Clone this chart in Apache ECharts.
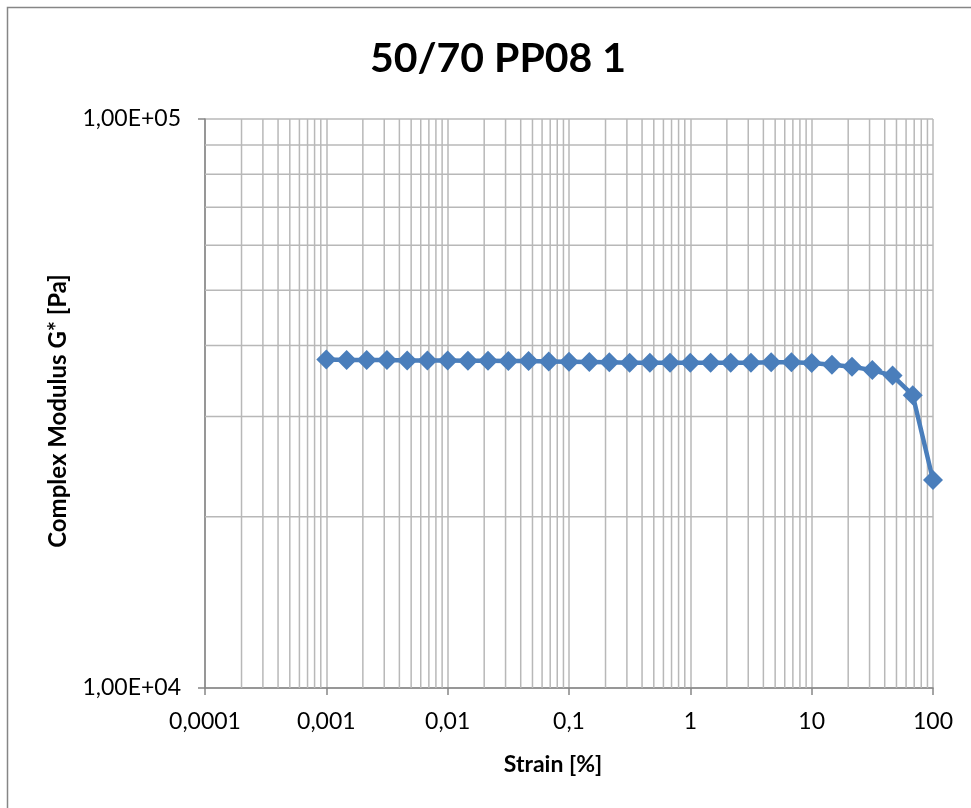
<!DOCTYPE html>
<html>
<head>
<meta charset="utf-8">
<script src="https://cdn.jsdelivr.net/npm/echarts@6/dist/echarts.min.js"></script>
<style>html,body{margin:0;padding:0;background:#fff}#c{width:971px;height:808px}</style>
</head>
<body>
<div id="c"></div>
<script>
var chartTitle = '50/70 PP08 1';
var xName = 'Strain [%]';
var yName = 'Complex Modulus G* [Pa]';
var strain = [0.001, 0.00147, 0.00215, 0.00316, 0.00464, 0.00681,
  0.01, 0.0147, 0.0215, 0.0316, 0.0464, 0.0681,
  0.1, 0.147, 0.215, 0.316, 0.464, 0.681,
  1, 1.47, 2.15, 3.16, 4.64, 6.81,
  10, 14.7, 21.5, 31.6, 46.4, 68.1, 100];
var modulus = [37800, 37700, 37700, 37700, 37650, 37650,
  37650, 37600, 37600, 37550, 37550, 37500,
  37450, 37400, 37350, 37300, 37300, 37300,
  37300, 37300, 37300, 37300, 37350, 37350,
  37250, 37000, 36700, 36200, 35400, 32700, 23200];
var xTickLabels = {0.0001:'0,0001', 0.001:'0,001', 0.01:'0,01', 0.1:'0,1', 1:'1', 10:'10', 100:'100'};
var yTickLabels = {10000:'1,00E+04', 100000:'1,00E+05'};
var xDecades = [0.0001, 0.001, 0.01, 0.1, 1, 10];
var minorSteps = [2, 3, 4, 5, 6, 7, 8, 9];
var yMinor = [20000, 30000, 40000, 50000, 60000, 70000, 80000, 90000];
var xMin = 0.0001, xMax = 100, yMin = 10000, yMax = 100000;

var xMinor = [];
xDecades.forEach(function(d){ minorSteps.forEach(function(k){ xMinor.push(+(d*k).toPrecision(3)); }); });

var font = 'Lato, "Open Sans", sans-serif';
var gridColor = '#b8b8b8';
var series = [];
xMinor.forEach(function(v){
  series.push({type:'line', silent:true, symbol:'none', z:1, data:[[v, yMin],[v, yMax]], lineStyle:{color:gridColor, width:1.5}});
});
yMinor.forEach(function(v){
  series.push({type:'line', silent:true, symbol:'none', z:1, data:[[xMin, v],[xMax, v]], lineStyle:{color:gridColor, width:1.5}});
});
series.push({
  type:'line',
  data:strain.map(function(s,i){return [s, modulus[i]];}),
  symbol:'diamond', symbolSize:20,
  lineStyle:{color:'#4a7ebb', width:4.5},
  itemStyle:{color:'#4a7ebb'},
  z:5
});

var chart = echarts.init(document.getElementById('c'), null, {renderer:'canvas'});
chart.setOption({
  animation:false,
  backgroundColor:'#fff',
  title:{text:chartTitle, left:493, textAlign:'center', top:33, textStyle:{fontFamily:font, fontWeight:'bold', fontSize:41, color:'#000'}},
  grid:{left:205, right:38, top:119, bottom:120},
  xAxis:{type:'log', logBase:10, min:xMin, max:xMax,
    axisLine:{lineStyle:{color:'#868686', width:1.5}},
    axisTick:{show:true, length:7, lineStyle:{color:'#868686', width:1.5}},
    axisLabel:{fontFamily:font, fontSize:23, color:'#000', margin:22, formatter:function(v){return xTickLabels[v]!==undefined?xTickLabels[v]:'';}},
    splitLine:{show:true, lineStyle:{color:gridColor, width:1.5}}
  },
  yAxis:{type:'log', logBase:10, min:yMin, max:yMax,
    axisLine:{show:true, lineStyle:{color:'#868686', width:1.5}},
    axisTick:{show:true, length:7, lineStyle:{color:'#868686', width:1.5}},
    axisLabel:{fontFamily:font, fontSize:23, color:'#000', margin:24, formatter:function(v){return yTickLabels[v]!==undefined?yTickLabels[v]:'';}},
    splitLine:{show:true, lineStyle:{color:gridColor, width:1.5}}
  },
  graphic:[
    {type:'rect', silent:true, shape:{x:7.5, y:7.5, width:1000, height:900}, style:{fill:null, stroke:'#868686', lineWidth:1.5}, z:-10},
    {type:'text', x:553, y:765, style:{text:xName, font:'bold 23px '+font, fill:'#000', align:'center', verticalAlign:'middle'}},
    {type:'text', x:58, y:411, rotation:Math.PI/2, style:{text:yName, font:'bold 24px '+font, fill:'#000', align:'center', verticalAlign:'middle'}}
  ],
  series:series
});
</script>
</body>
</html>
